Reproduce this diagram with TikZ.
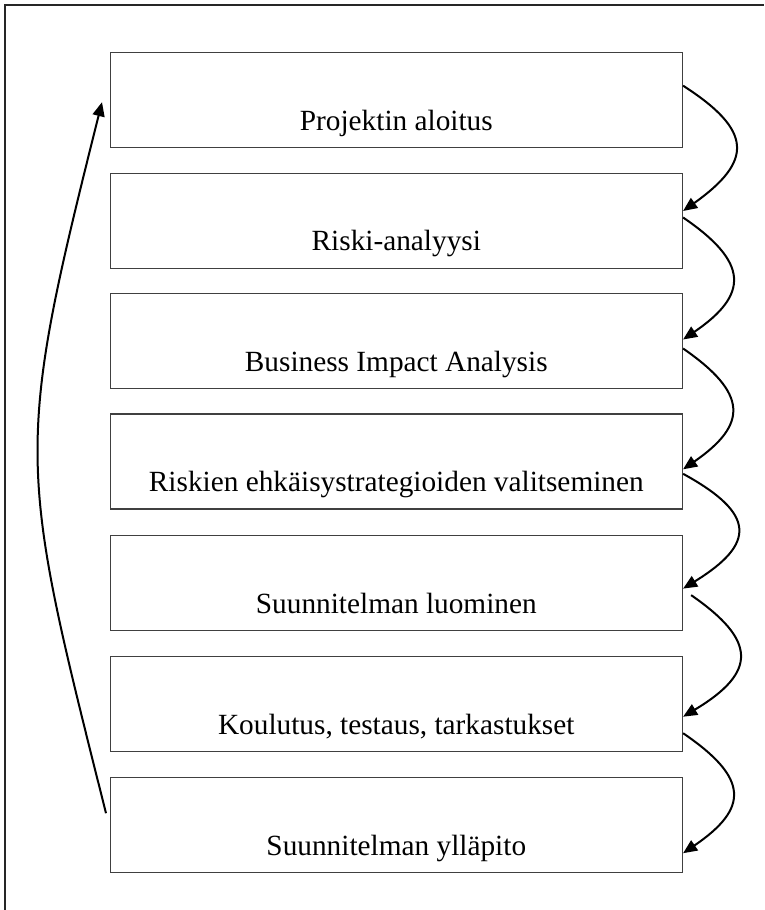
\documentclass[tikz,border=0pt]{standalone}
\usepackage{fontspec}
\setmainfont{Liberation Serif}
\usetikzlibrary{arrows.meta}
\begin{document}
\begin{tikzpicture}[x=1pt,y=-1pt,
  stagebox/.style={draw=black!75,line width=1.4pt,minimum width=572.2pt,minimum height=95pt,inner sep=0pt,anchor=north west},
  stagetext/.style={anchor=base,font=\fontsize{29.3}{34}\selectfont,inner sep=0pt},
  flow/.style={line width=2pt,-{Triangle[length=14pt,width=12pt]}},
  frameline/.style={line width=1.8pt,black!85}]
\useasboundingbox (0,0) rectangle (764,910);
\draw[frameline] (5,910) -- (5,5) -- (764,5);
\foreach \i/\t in {1/51.7,2/172.5,3/293.0,4/413.3,5/534.6,6/655.7,7/776.7}{
  \node[stagebox] (b\i) at (109.5,\t) {};
}
\node[stagetext] (t1) at ([yshift=18pt]b1.south) {Projektin aloitus};
\node[stagetext] (t2) at ([yshift=18pt]b2.south) {Riski-analyysi};
\node[stagetext] (t3) at ([yshift=18pt]b3.south) {Business Impact Analysis};
\node[stagetext] (t4) at ([yshift=18pt]b4.south) {Riskien ehkäisystrategioiden valitseminen};
\node[stagetext] (t5) at ([yshift=18pt]b5.south) {Suunnitelman luominen};
\node[stagetext] (t6) at ([yshift=18pt]b6.south) {Koulutus, testaus, tarkastukset};
\node[stagetext] (t7) at ([yshift=18pt]b7.south) {Suunnitelman ylläpito};
\draw[flow] ([yshift=-34pt]b1.north east) .. controls +(70,45) and +(70,-50) .. ([yshift=-38.5pt]b2.north east);
\draw[flow] ([yshift=-45pt]b2.north east) .. controls +(66,45) and +(66,-45) .. ([yshift=-46.5pt]b3.north east);
\draw[flow] ([yshift=-55.5pt]b3.north east) .. controls +(65,45) and +(65,-45) .. ([yshift=-56pt]b4.north east);
\draw[flow] ([yshift=-60.5pt]b4.north east) .. controls +(73,40) and +(73,-45) .. ([yshift=-54pt]b5.north east);
\draw[flow] ([xshift=8pt,yshift=-60.5pt]b5.north east) .. controls +(65,45) and +(75,-45) .. ([yshift=-61pt]b6.north east);
\draw[flow] ([yshift=-77.5pt]b6.north east) .. controls +(66,45) and +(66,-45) .. ([yshift=-76.5pt]b7.north east);
\draw[flow] ([xshift=-3.5pt,yshift=-36.5pt]b7.north west) .. controls +(-88,-350) and +(-88,350) .. ([xshift=-7.5pt,yshift=-50.5pt]b1.north west);
\end{tikzpicture}
\end{document}
